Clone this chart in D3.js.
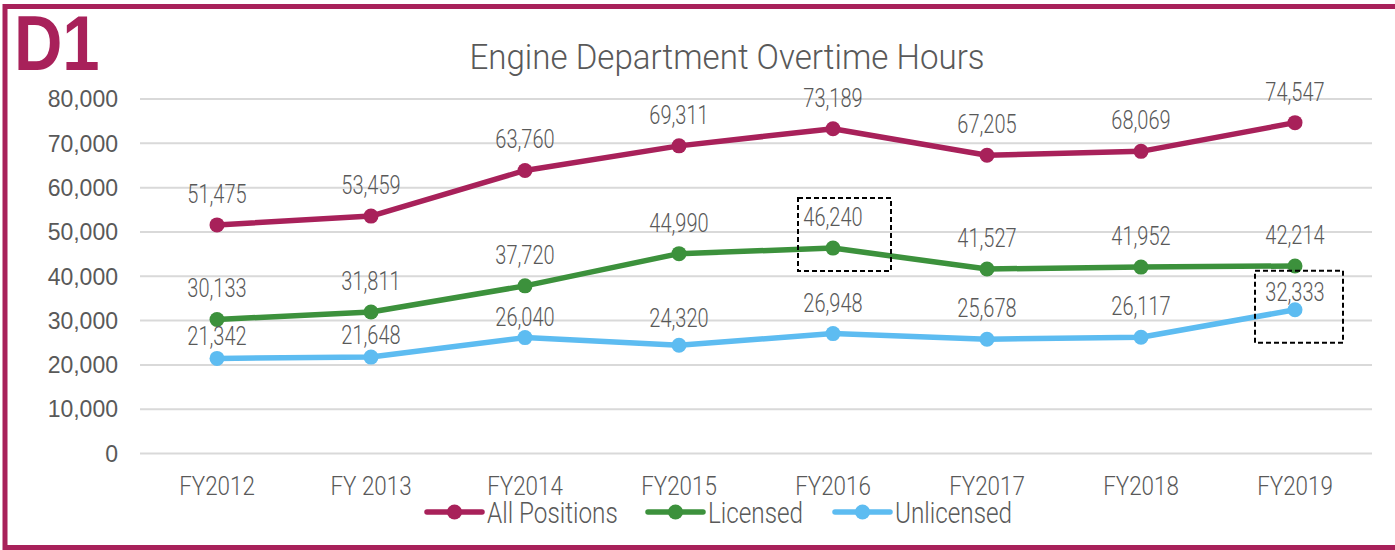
<!DOCTYPE html>
<html>
<head>
<meta charset="utf-8">
<script src="https://cdn.jsdelivr.net/npm/d3@7"></script>
<style>
  body { margin: 0; background: #fff; }
  svg { display: block; }
</style>
</head>
<body>
<svg id="chart"></svg>
<script>
// data
const years = ["FY2012", "FY 2013", "FY2014", "FY2015", "FY2016", "FY2017", "FY2018", "FY2019"];
const allPositions = [51475, 53459, 63760, 69311, 73189, 67205, 68069, 74547];
const licensed = [30133, 31811, 37720, 44990, 46240, 41527, 41952, 42214];
const unlicensed = [21342, 21648, 26040, 24320, 26948, 25678, 26117, 32333];
const yTicks = [0, 10000, 20000, 30000, 40000, 50000, 60000, 70000, 80000];
const seriesNames = ["All Positions", "Licensed", "Unlicensed"];

const dims = { width: 1395, height: 550, left: 140, right: 1372, top: 98.5, bottom: 453 };
const colors = ["#a8215a", "#3c913c", "#5dbcf1"];
const frameColor = "#a8215a";
const textGrey = "#595959";

const series = [allPositions, licensed, unlicensed].map((values, i) => ({
  name: seriesNames[i], color: colors[i], values: values
}));

// hand-placed labels in the original (distance above the point, px)
const labelLift = { "Unlicensed|FY2012": 22, "Unlicensed|FY 2013": 22, "Unlicensed|FY2014": 21,
  "Unlicensed|FY2015": 27, "Unlicensed|FY2019": 18 };

// dashed callout boxes, relative to a point
const callouts = [
  { series: "Licensed", year: "FY2016", x0: -35, x1: 58, y0: -50, y1: 23 },
  { series: "Unlicensed", year: "FY2019", x0: -40, x1: 48, y0: -39, y1: 33 }
];

const svg = d3.select("#chart").attr("width", dims.width).attr("height", dims.height);

const x = d3.scaleBand().domain(years).range([dims.left, dims.right]);
const y = d3.scaleLinear().domain([0, 80000]).range([dims.bottom, dims.top]);
const cx = d => x(d) + x.bandwidth() / 2;
const fmt = d3.format(",");

// frame
svg.append("rect")
  .attr("x", 5).attr("y", 6.5).attr("width", 1400).attr("height", 541)
  .attr("fill", "none").attr("stroke", frameColor).attr("stroke-width", 5);

svg.append("text")
  .attr("transform", "translate(14,70) scale(0.87,1)")
  .attr("font-family", "Liberation Sans, Arial, sans-serif")
  .attr("font-weight", "bold").attr("font-size", 77)
  .attr("fill", frameColor)
  .text("D1");

// title
svg.append("text")
  .attr("transform", `translate(727, 69) scale(0.92, 1)`)
  .attr("text-anchor", "middle")
  .attr("font-family", "Roboto").attr("font-weight", 300).attr("font-size", 36)
  .attr("fill", textGrey)
  .text("Engine Department Overtime Hours");

// grid + y axis
const yAxis = d3.axisLeft(y).tickValues(yTicks).tickFormat(fmt)
  .tickSize(-(dims.right - dims.left)).tickPadding(22);
const gy = svg.append("g").attr("transform", `translate(${dims.left},0)`).call(yAxis);
gy.select(".domain").remove();
gy.selectAll(".tick line").attr("stroke", "#d9d9d9").attr("stroke-width", 2);
gy.selectAll(".tick text")
  .attr("font-family", "Liberation Sans, Arial, sans-serif").attr("font-size", 23)
  .attr("fill", textGrey).attr("dy", "0.36em");

// x axis labels
const xAxis = d3.axisBottom(x).tickSize(0).tickPadding(0);
const gx = svg.append("g").attr("transform", `translate(0,${dims.bottom})`).call(xAxis);
gx.select(".domain").remove();
gx.selectAll(".tick text")
  .attr("y", 0).attr("dy", 0)
  .attr("transform", "translate(0,42) scale(0.845,1)")
  .attr("font-family", "Roboto").attr("font-weight", 300).attr("font-size", 26.5)
  .attr("fill", textGrey);

// lines
const line = d3.line().x((d, i) => cx(years[i])).y(d => y(d));
const g = svg.selectAll("g.series").data(series).join("g").attr("class", "series");
g.append("path")
  .attr("d", d => line(d.values))
  .attr("fill", "none").attr("stroke", d => d.color).attr("stroke-width", 5.5)
  .attr("stroke-linejoin", "round");
g.selectAll("circle")
  .data(d => d.values.map((v, i) => ({ v: v, year: years[i], color: d.color })))
  .join("circle")
  .attr("cx", d => cx(d.year)).attr("cy", d => y(d.v)).attr("r", 7.5)
  .attr("fill", d => d.color);

// data labels
g.selectAll("text.lbl")
  .data(d => d.values.map((v, i) => ({ v: v, year: years[i], name: d.name })))
  .join("text").attr("class", "lbl")
  .attr("transform", d => {
    const lift = labelLift[d.name + "|" + d.year] || 31;
    return `translate(${cx(d.year)},${y(d.v) - lift + 9}) scale(0.8,1)`;
  })
  .attr("text-anchor", "middle")
  .attr("font-family", "Roboto").attr("font-weight", 300).attr("font-size", 25)
  .attr("fill", textGrey)
  .text(d => fmt(d.v));

// callout boxes
callouts.forEach(c => {
  const s = series.find(d => d.name === c.series);
  const px = cx(c.year), py = y(s.values[years.indexOf(c.year)]);
  svg.append("rect")
    .attr("x", px + c.x0).attr("y", py + c.y0)
    .attr("width", c.x1 - c.x0).attr("height", c.y1 - c.y0)
    .attr("fill", "none").attr("stroke", "#000").attr("stroke-width", 2)
    .attr("stroke-dasharray", "5,3");
});

// legend
const legendX = [427, 648, 835];
const lg = svg.selectAll("g.legend").data(series).join("g").attr("class", "legend")
  .attr("transform", (d, i) => `translate(${legendX[i]},512)`);
lg.append("line").attr("x1", 0).attr("x2", 55)
  .attr("stroke", d => d.color).attr("stroke-width", 5.5).attr("stroke-linecap", "round");
lg.append("circle").attr("cx", 27.5).attr("r", 7.5).attr("fill", d => d.color);
lg.append("text")
  .attr("transform", "translate(60,10.5) scale(0.81,1)")
  .attr("font-family", "Roboto").attr("font-weight", 300).attr("font-size", 30)
  .attr("fill", textGrey)
  .text(d => d.name);
</script>
</body>
</html>
